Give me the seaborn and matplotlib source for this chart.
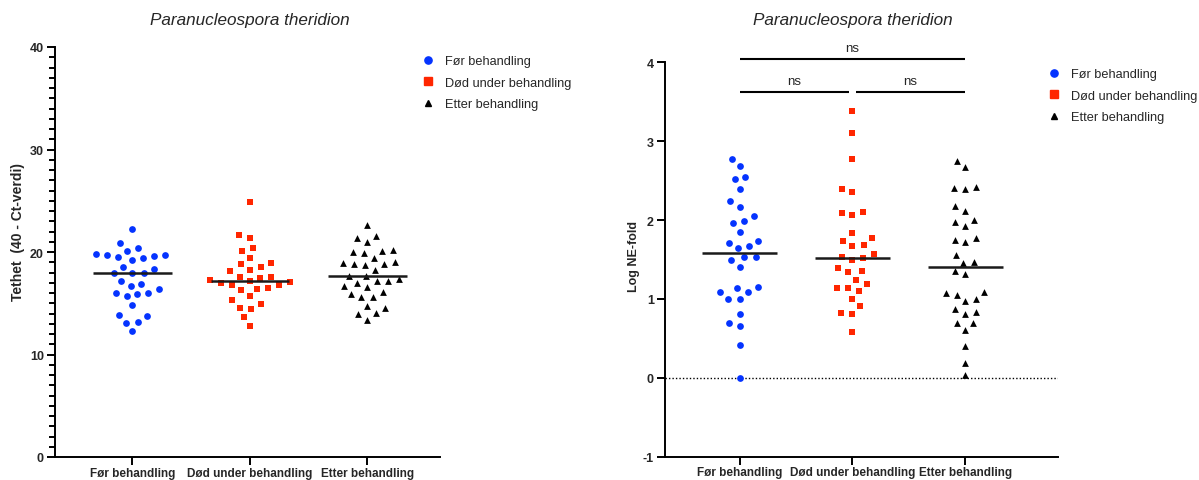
import numpy as np
import pandas as pd
import matplotlib
matplotlib.use("Agg")
import matplotlib.pyplot as plt
from matplotlib.lines import Line2D
from matplotlib.ticker import MultipleLocator
from matplotlib.transforms import Affine2D, blended_transform_factory
import seaborn as sns

# Treatment groups and their styling
groups = ["Før behandling", "Død under behandling", "Etter behandling"]
colors = ["#0433FF", "#FF2600", "#000000"]
markers = ["o", "s", "^"]

# Density (40 - Ct value) per fish
density_before = [22.27, 20.88, 20.10, 20.39, 19.58, 19.19, 19.38, 19.67, 19.77, 19.67,
                  19.48, 18.37, 18.57, 17.98, 17.98, 17.98, 17.17, 16.68, 16.88, 16.39,
                  15.67, 16.00, 15.87, 16.00, 14.80, 13.79, 13.89, 13.07, 13.17, 12.26]
density_died = [24.85, 21.34, 21.63, 20.36, 20.07, 19.38, 18.50, 18.80, 18.90, 18.24,
                18.11, 17.43, 17.53, 16.81, 16.95, 17.04, 16.32, 17.14, 16.42, 17.24,
                16.52, 17.53, 16.81, 15.67, 15.28, 14.57, 14.90, 14.41, 13.63, 12.75]
density_after = [22.63, 21.53, 21.34, 20.94, 20.23, 19.87, 20.13, 20.03, 19.41, 18.93,
                 18.83, 18.73, 18.83, 19.02, 18.21, 17.63, 17.63, 17.14, 17.34, 17.14,
                 16.95, 16.71, 16.61, 16.13, 15.93, 15.61, 15.61, 14.73, 14.54, 14.02,
                 13.95, 13.34]

# Log normalised expression fold
lognf_before = [2.78, 2.68, 2.52, 2.55, 2.40, 2.24, 2.17, 2.05, 1.99, 1.96,
                1.85, 1.71, 1.74, 1.64, 1.67, 1.53, 1.53, 1.50, 1.41, 1.15,
                1.14, 1.09, 1.09, 1.00, 1.00, 0.81, 0.66, 0.69, 0.41, 0.00]
lognf_died = [3.38, 3.11, 2.77, 2.35, 2.39, 2.10, 2.06, 2.09, 1.83, 1.73,
              1.77, 1.67, 1.68, 1.57, 1.49, 1.52, 1.53, 1.39, 1.34, 1.35,
              1.24, 1.14, 1.19, 1.10, 1.14, 1.00, 0.91, 0.81, 0.82, 0.58]
lognf_after = [2.75, 2.67, 2.42, 2.40, 2.41, 2.18, 2.12, 2.00, 1.98, 1.92,
               1.77, 1.75, 1.72, 1.56, 1.45, 1.47, 1.32, 1.35, 1.09, 1.07,
               1.05, 1.00, 0.97, 0.87, 0.83, 0.81, 0.69, 0.70, 0.60, 0.40,
               0.19, 0.03]

# Pairwise comparisons: (group a, group b, bracket height, label)
comparisons = [(0, 0.97, 3.62, "ns"), (1.03, 2, 3.62, "ns"), (0, 2, 4.04, "ns")]

title = "Paranucleospora theridion"

sns.set_theme(style="white")
plt.rcParams["font.family"] = ["Liberation Sans", "DejaVu Sans"]
plt.rcParams["axes.unicode_minus"] = False

fig = plt.figure(figsize=(11.99, 4.81), dpi=100)
W, H = 1199, 481
ax1 = fig.add_axes([55 / W, 1 - 458 / H, (440 - 55) / W, (458 - 48) / H])
ax2 = fig.add_axes([665 / W, 1 - 457.7 / H, (1058 - 665) / W, (457.7 - 63.3) / H])

SWARM_SIZE = 7.6      # spacing used by the beeswarm layout (points)
GLYPH_SCALE = 0.64    # drawn glyph size relative to the layout size


def to_frame(series):
    return pd.DataFrame({
        "group": np.repeat(groups, [len(s) for s in series]),
        "value": np.concatenate(series),
    })


def draw_panel(ax, series):
    df = to_frame(series)
    for g, c, m in zip(groups, colors, markers):
        sub = df[df["group"] == g]
        sns.swarmplot(data=sub, x="group", y="value", order=groups, color=c,
                      marker=m, size=SWARM_SIZE, linewidth=0, ax=ax, zorder=3)
    # shrink the glyphs while keeping the wider swarm spacing
    for coll in ax.collections:
        coll.set_paths([p.transformed(Affine2D().scale(GLYPH_SCALE))
                        for p in coll.get_paths()])
    for i, vals in enumerate(series):
        ax.hlines(np.median(vals), i - 0.335, i + 0.335, color="#1a1a1a", lw=1.8, zorder=4)
    for side in ["top", "right"]:
        ax.spines[side].set_visible(False)
    for side in ["left", "bottom"]:
        ax.spines[side].set_linewidth(1.4)
        ax.spines[side].set_color("black")
    ax.set_xlabel("")
    ax.tick_params(axis="both", which="major", direction="out", length=6, width=1.4,
                   color="black", pad=2, left=True, bottom=True)
    ax.tick_params(axis="x", labelsize=8.5, pad=1)
    ax.tick_params(axis="y", labelsize=9)
    for lab in ax.get_xticklabels() + ax.get_yticklabels():
        lab.set_fontweight("bold")
    tr = blended_transform_factory(ax.transData, fig.transFigure)
    ax.text(1, 0.957, title, transform=tr, ha="center", va="center",
            fontsize=12.3, style="italic")


# Left panel: density
draw_panel(ax1, [density_before, density_died, density_after])
ax1.set_ylim(0, 40)
ax1.set_xlim(-0.66, 2.62)
ax1.set_yticks([0, 10, 20, 30, 40])
ax1.yaxis.set_minor_locator(MultipleLocator(1))
ax1.tick_params(axis="y", which="minor", direction="out", length=4, width=1.4,
                color="black", left=True)
for lab in ax1.get_yticklabels():
    lab.set_fontweight("bold")
ax1.set_ylabel("Tethet  (40 - Ct-verdi)", fontsize=10, fontweight="bold")
ax1.yaxis.set_label_coords(-0.078, 0.55)

# Right panel: log NE-fold
draw_panel(ax2, [lognf_before, lognf_died, lognf_after])
ax2.set_ylim(-1, 4)
ax2.set_xlim(-0.66, 2.82)
ax2.set_yticks([-1, 0, 1, 2, 3, 4])
for lab in ax2.get_yticklabels():
    lab.set_fontweight("bold")
ax2.axhline(0, color="black", lw=1, ls=(0, (1, 1.5)), zorder=1)
ax2.set_ylabel("Log NE-fold", fontsize=9, fontweight="bold")
ax2.yaxis.set_label_coords(-0.063, 0.51)

for a, b, yb, lab in comparisons:
    ax2.plot([a, b], [yb, yb], color="black", lw=1.5, clip_on=False, solid_capstyle="butt")
    ax2.text((a + b) / 2, yb + 0.07, lab, ha="center", va="bottom", fontsize=9.5)

# Legends
handles = [Line2D([], [], ls="", marker=m, color=c, markersize=ms)
           for m, c, ms in zip(markers, colors, [5.2, 5.2, 4.6])]
for x0, y0 in [(422 / W, 1 - 56 / H), (1048 / W, 1 - 69 / H)]:
    fig.legend(handles, groups, loc="upper left", bbox_to_anchor=(x0, y0),
               frameon=False, fontsize=9.2, handlelength=1.0, handletextpad=0.8,
               labelspacing=0.75, borderaxespad=0, borderpad=0)

fig.savefig("out.png", dpi=100)
